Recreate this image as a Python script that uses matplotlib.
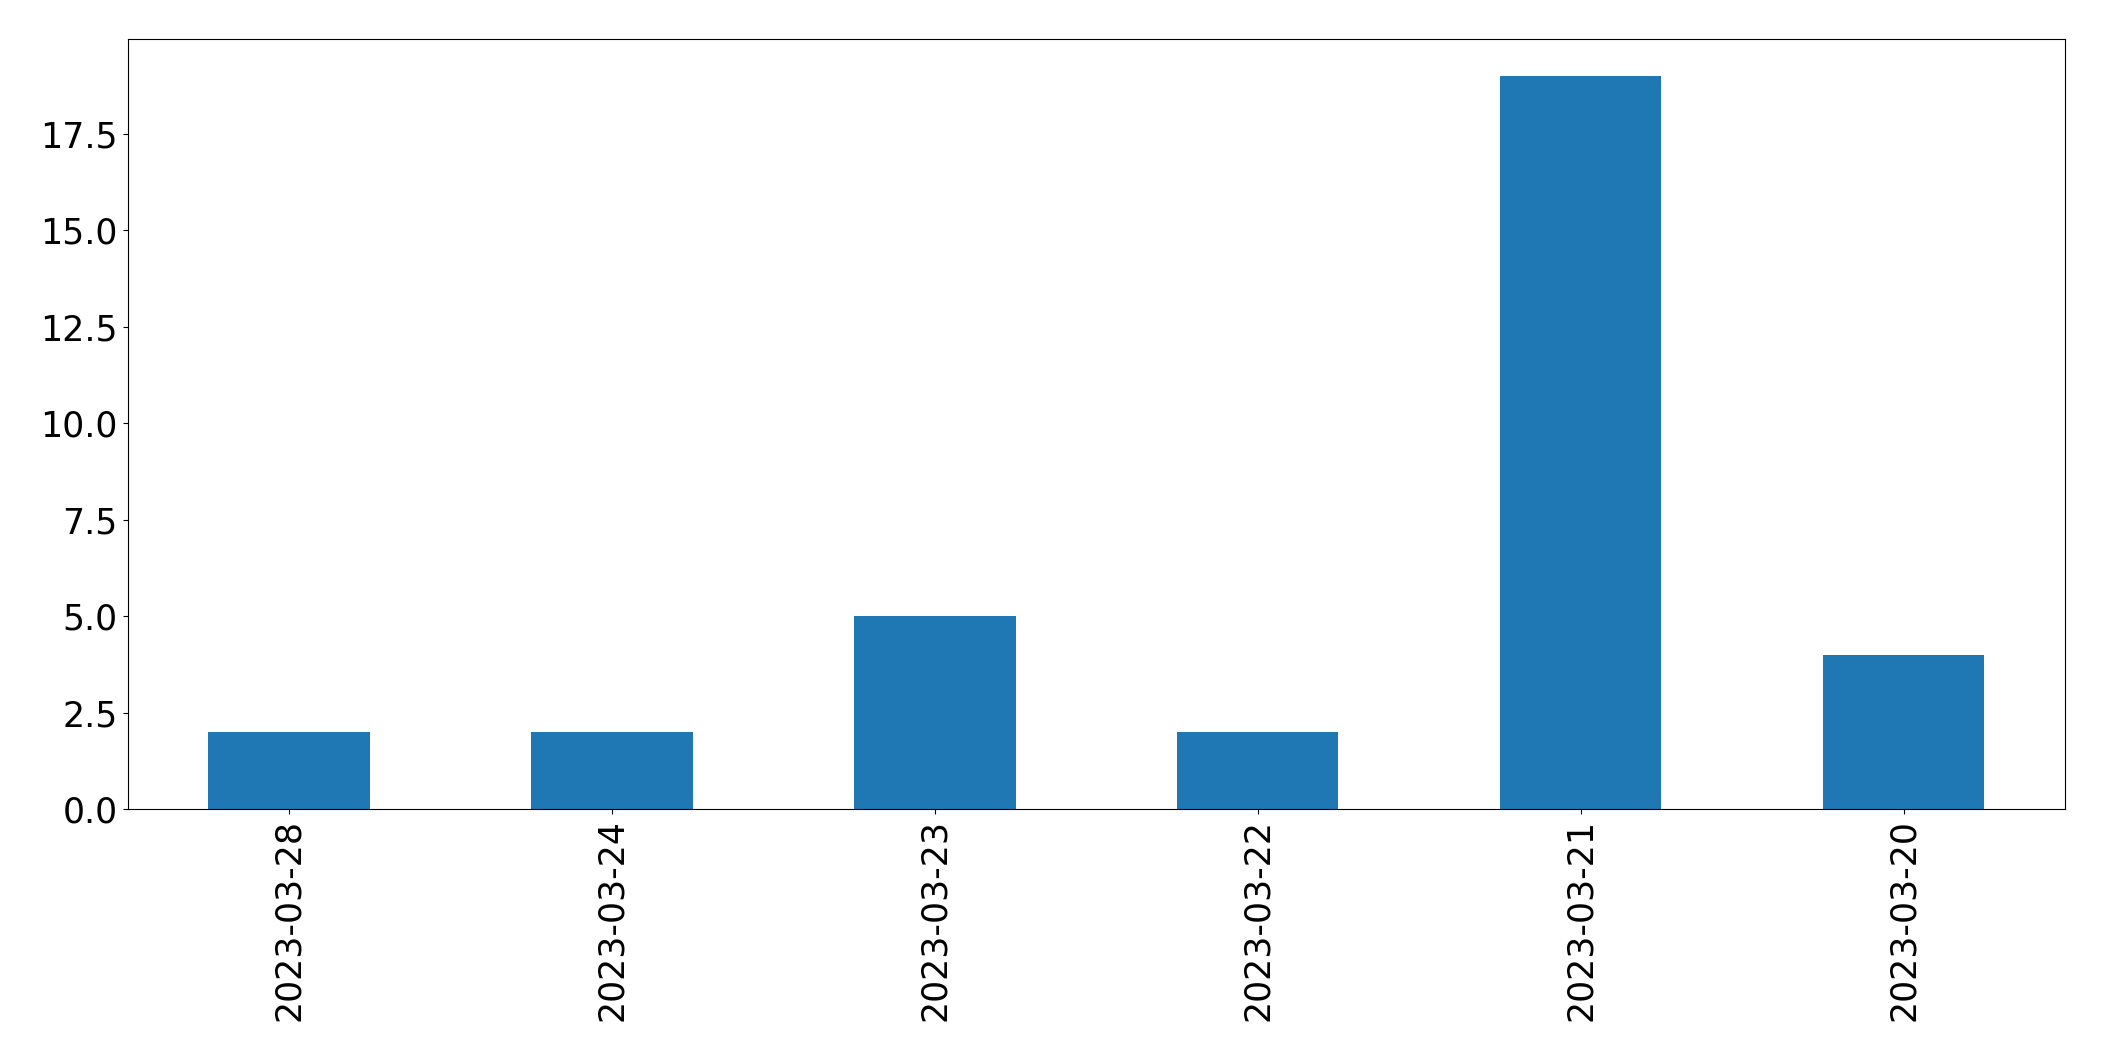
import matplotlib
matplotlib.use("Agg")
import matplotlib.pyplot as plt
import numpy as np

categories = ["2023-03-28", "2023-03-24", "2023-03-23", "2023-03-22", "2023-03-21", "2023-03-20"]
values = [2, 2, 5, 2, 19, 4]

fig = plt.figure(figsize=(21.04, 10.61), dpi=100)
ax = fig.add_axes([127.5/2104, 1 - 809/1061, (2065-127.5)/2104, (809-39)/1061])
x = np.arange(len(categories))
ax.bar(x, values, width=0.5, color="#1f77b4")
ax.set_xticks(x)
ax.set_xticklabels(categories, rotation=90)
ax.set_xlim(-0.5, len(categories) - 0.5)
ax.set_ylim(0, 19 * 1.05)
ax.tick_params(labelsize=25)
fig.savefig("out.png", dpi=100)
